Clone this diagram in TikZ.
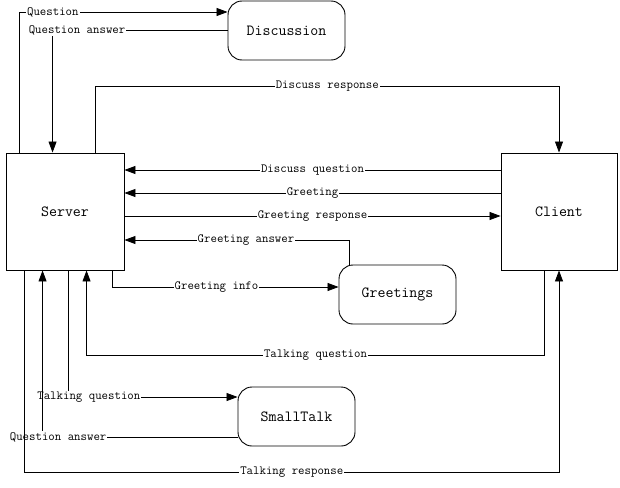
\documentclass[tikz,border=0pt]{standalone}
\usepackage{fontspec}
\usetikzlibrary{arrows.meta,calc}

\begin{document}
\begin{tikzpicture}[x=1pt, y=-1pt,
	box/.style={draw, line width=0.9pt, minimum width=118pt, minimum height=117pt, font=\ttfamily\fontsize{15.5}{17}\selectfont},
	task/.style={draw, line width=0.9pt, rounded corners=14pt, minimum width=117pt, minimum height=59pt, font=\ttfamily\fontsize{15.5}{17}\selectfont},
	link/.style={line width=0.8pt, -{Triangle[length=11pt,width=8pt]}},
	lbl/.style={fill=white, inner sep=1pt, font=\ttfamily\fontsize{12.5}{13}\selectfont}]
	\useasboundingbox (0,0) rectangle (620,487);

	\node[box] (server) at (65,211.5) {Server};
	\node[box, minimum width=116pt] (client) at (559,211.5) {Client};
	\node[task] (discussion) at (286.5,30.5) {Discussion};
	\node[task] (greetings) at (397.5,294.5) {Greetings};
	\node[task] (smalltalk) at (296.5,416.5) {SmallTalk};

	\draw[link] ($(server.north west)+(14,0)$) |- node[lbl,pos=0.58]{Question} ([yshift=18.5pt]discussion.west);
	\draw[link] (discussion.west) -| node[lbl,pos=0.43]{Question answer} ($(server.north west)+(47,0)$);
	\draw[link] ($(server.north west)+(90,0)$) -- ++(0,-66) -| node[lbl,pos=0.25]{Discuss response} (client.north);

	\draw[link] ([yshift=41.5pt]client.west) -- node[lbl]{Discuss question} ([yshift=41.5pt]server.east);
	\draw[link] ([yshift=18.5pt]client.west) -- node[lbl]{Greeting} ([yshift=18.5pt]server.east);
	\draw[link] ([yshift=-4.5pt]server.east) -- node[lbl]{Greeting response} ([yshift=-4.5pt]client.west);

	\draw[link] ($(greetings.north west)+(11,0)$) |- node[lbl,pos=0.73]{Greeting answer} ([yshift=-28.5pt]server.east);
	\draw[link] ($(server.south west)+(107,0)$) |- node[lbl,pos=0.73]{Greeting info} ([yshift=7.5pt]greetings.west);

	\draw[link] ($(client.south west)+(44,0)$) -- ++(0,85) -| node[lbl,pos=0.25]{Talking question} ($(server.south west)+(81,0)$);
	\draw[link] ($(server.south west)+(63,0)$) |- node[lbl,pos=0.56]{Talking question} ([yshift=19.5pt]smalltalk.west);
	\draw[link] ([yshift=-20.5pt]smalltalk.west) -| node[lbl,pos=0.46]{Question answer} ($(server.south west)+(37,0)$);
	\draw[link] ($(server.south west)+(19,0)$) -- ++(0,202) -| node[lbl,pos=0.25]{Talking response} (client.south);
\end{tikzpicture}
\end{document}
